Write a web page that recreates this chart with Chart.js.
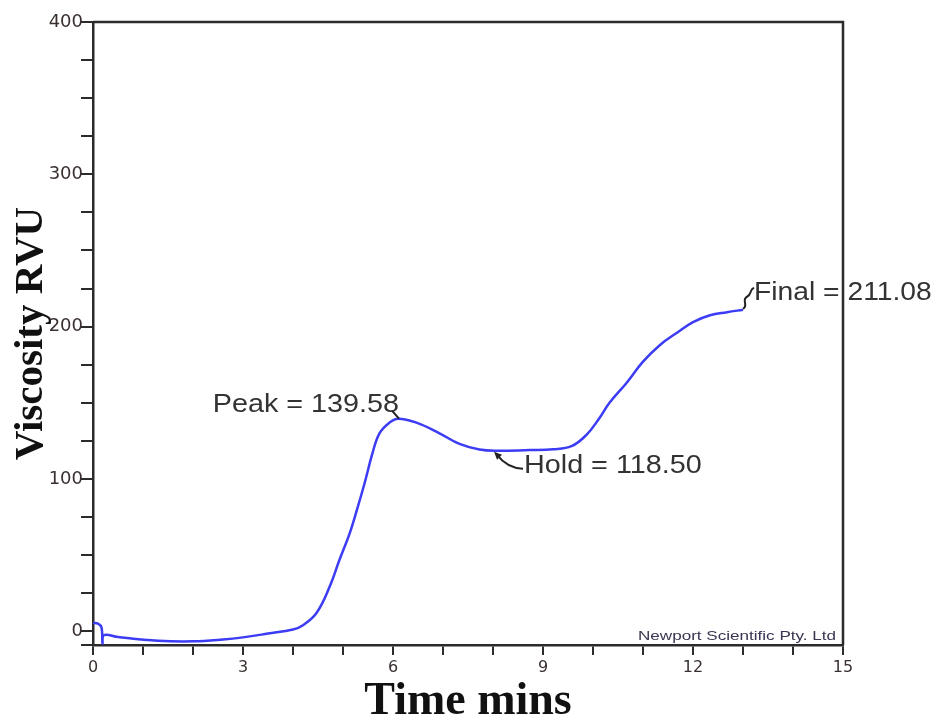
<!DOCTYPE html>
<html>
<head>
<meta charset="utf-8">
<script src="https://cdn.jsdelivr.net/npm/chart.js"></script>
<style>
  html, body { margin: 0; padding: 0; background: #fff; }
  canvas { display: block; }
</style>
</head>
<body>
<canvas id="rvaChart" width="938" height="727"></canvas>
<script>
/* ── DATA ─────────────────────────────────────────────── */
const TIME_MIN = [0, 0.1, 0.17, 0.19, 0.22, 0.5, 1.3, 2.0, 2.6, 3.0, 3.5, 4.0, 4.2, 4.47, 4.73, 4.93,
  5.13, 5.29, 5.43, 5.59, 5.73, 5.93, 6.1, 6.47, 6.93, 7.33, 7.73, 8.07, 8.73, 9.2, 9.57,
  9.87, 10.13, 10.33, 10.67, 11.0, 11.34, 11.68, 12.0, 12.34, 12.68, 13.0];
const VISCOSITY_RVU = [5.5, 5, 2.5, -8, -2.5, -3.8, -6.2, -6.6, -5.4, -4, -1.5, 1.2, 4, 12, 29, 47,
  64, 81, 97, 117, 130, 137, 139.58, 137, 130, 123, 119.3, 118.5, 119, 119.5, 121.5,
  129, 140, 150, 163, 177, 188, 196, 203, 207.5, 209.5, 211.08];

const X_TICKS  = [0, 1, 2, 3, 4, 5, 6, 7, 8, 9, 10, 11, 12, 13, 14, 15];
const X_LABELS = [0, 3, 6, 9, 12, 15];
const Y_TICKS  = [-9, 0, 25, 50, 75, 100, 125, 150, 175, 200, 225, 250, 275, 300, 325, 350, 375, 400];
const Y_LABELS = [0, 100, 200, 300, 400];

const NOTE_TEXT = ['Peak = 139.58', 'Hold = 118.50', 'Final = 211.08'];
const NOTE_TIME = [6.1, 8.0, 13.0];
const NOTE_VALUE = [139.58, 118.5, 211.08];

const INK = '#2b2b2b';
const LINE_BLUE = '#3c3cf4';

// the scanned original is a bit stretched sideways; widen drawn text to suit
function wideText(ctx, text, x, y, stretch, align) {
  const w = ctx.measureText(text).width * stretch;
  ctx.save();
  ctx.textAlign = 'left';
  ctx.translate(align === 'right' ? x - w : x, y);
  ctx.scale(stretch, 1);
  ctx.fillText(text, 0, 0);
  ctx.restore();
}

/* ── PLUGINS ──────────────────────────────────────────── */
const framePlugin = {
  id: 'frame',
  afterDraw(chart) {
    const { ctx, chartArea: a } = chart;
    ctx.save();
    ctx.strokeStyle = INK;
    ctx.lineWidth = 2.5;
    ctx.beginPath();
    ctx.moveTo(a.left, a.top);
    ctx.lineTo(a.right, a.top);
    ctx.lineTo(a.right, a.bottom);
    ctx.stroke();

    // maker stamp along the base line
    const stamp = 'Newport Scientific Pty. Ltd';
    ctx.font = '12px "Liberation Sans", Arial, sans-serif';
    ctx.fillStyle = '#3a3550';
    ctx.textBaseline = 'alphabetic';
    const w = ctx.measureText(stamp).width;
    wideText(ctx, stamp, a.right - 7, a.bottom - 5, 198 / w, 'right');
    ctx.restore();
  }
};

const notesPlugin = {
  id: 'notes',
  afterDraw(chart) {
    const { ctx, scales: { x, y } } = chart;
    const pts = NOTE_TIME.map((t, i) => ({ px: x.getPixelForValue(t), py: y.getPixelForValue(NOTE_VALUE[i]) }));
    ctx.save();
    ctx.fillStyle = '#333';
    ctx.strokeStyle = '#222';
    ctx.lineWidth = 2;
    ctx.font = '25px "Liberation Sans", Arial, sans-serif';
    ctx.textBaseline = 'middle';

    // Peak
    let p = pts[0];
    wideText(ctx, NOTE_TEXT[0], p.px + 1, p.py - 14, 1.15, 'right');
    ctx.beginPath();
    ctx.moveTo(p.px - 6, p.py - 8);
    ctx.lineTo(p.px + 1, p.py);
    ctx.stroke();

    // Hold
    p = pts[1];
    wideText(ctx, NOTE_TEXT[1], p.px + 31, p.py + 15, 1.15, 'left');
    ctx.beginPath();
    ctx.moveTo(p.px + 30, p.py + 18);
    ctx.quadraticCurveTo(p.px + 14, p.py + 17, p.px + 4, p.py + 4);
    ctx.stroke();
    ctx.beginPath();
    ctx.moveTo(p.px + 1, p.py + 1);
    ctx.lineTo(p.px + 9, p.py + 4);
    ctx.lineTo(p.px + 4, p.py + 9);
    ctx.closePath();
    ctx.fillStyle = '#222';
    ctx.fill();

    // Final
    p = pts[2];
    ctx.fillStyle = '#333';
    wideText(ctx, NOTE_TEXT[2], p.px + 11, p.py - 17, 1.13, 'left');
    ctx.beginPath();
    ctx.moveTo(p.px, p.py - 1);
    ctx.bezierCurveTo(p.px + 6, p.py - 4, p.px - 2, p.py - 10, p.px + 4, p.py - 13);
    ctx.bezierCurveTo(p.px + 9, p.py - 15, p.px + 6, p.py - 20, p.px + 11, p.py - 22);
    ctx.stroke();
    ctx.restore();
  }
};

/* ── CHART ────────────────────────────────────────────── */
new Chart(document.getElementById('rvaChart'), {
  type: 'line',
  data: {
    datasets: [{
      data: TIME_MIN.map((t, i) => ({ x: t, y: VISCOSITY_RVU[i] })),
      borderColor: LINE_BLUE,
      borderWidth: 2.5,
      pointRadius: 0,
      fill: false,
      tension: 0.4
    }]
  },
  options: {
    responsive: false,
    animation: false,
    devicePixelRatio: 1,
    layout: { padding: { top: 22, right: 95, left: 0, bottom: 0 } },
    plugins: { legend: { display: false }, tooltip: { enabled: false } },
    scales: {
      x: {
        type: 'linear', min: 0, max: 15,
        afterBuildTicks: s => { s.ticks = X_TICKS.map(v => ({ value: v })); },
        afterFit: s => { s.height = 82; },
        ticks: {
          autoSkip: false, maxRotation: 0, padding: 3, color: '#3a3030',
          font: { family: 'DejaVu Sans', size: 16 },
          callback: v => X_LABELS.includes(v) ? String(v) : ''
        },
        grid: { drawOnChartArea: false, tickLength: 10, color: INK, lineWidth: 2 },
        border: { display: true, color: INK, width: 2.5 },
        title: {
          display: true, text: 'Time mins', color: '#111',
          font: { family: 'Liberation Serif', size: 46, weight: 'bold', lineHeight: 1 },
          padding: { top: 0, bottom: 2 }
        }
      },
      y: {
        type: 'linear', min: -9, max: 400,
        afterBuildTicks: s => { s.ticks = Y_TICKS.map(v => ({ value: v })); },
        afterFit: s => { s.width = 93; },
        ticks: {
          autoSkip: false, padding: -2, color: '#3a3030',
          font: { family: 'DejaVu Sans', size: 18 },
          callback: v => Y_LABELS.includes(v) ? String(v) : ''
        },
        grid: { drawOnChartArea: false, tickLength: 12, color: INK, lineWidth: 2 },
        border: { display: true, color: INK, width: 2.5 },
        title: {
          display: true, text: 'Viscosity RVU', color: '#111',
          font: { family: 'Liberation Serif', size: 41, weight: 'bold', lineHeight: 1 },
          padding: { top: 11, bottom: 0 }
        }
      }
    }
  },
  plugins: [framePlugin, notesPlugin]
});
</script>
</body>
</html>
